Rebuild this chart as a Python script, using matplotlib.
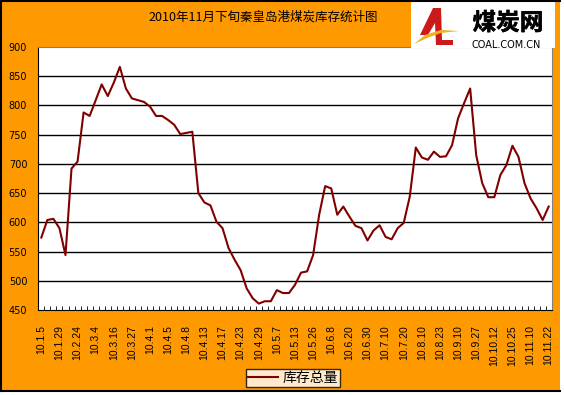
import numpy as np
import matplotlib.pyplot as plt
import matplotlib.patheffects as pe
from matplotlib.patches import Rectangle, Polygon
from matplotlib.lines import Line2D

plt.rcParams['font.family'] = ['Noto Sans CJK SC', 'DejaVu Sans']

title = "2010年11月下旬秦皇岛港煤炭库存统计图"
series_name = "库存总量"

# stock values (10k t), one per report date
stock = [574, 604, 606, 590, 544, 692, 704, 788, 782, 809,
         836, 816, 839, 866, 829, 812, 809, 806, 798, 782,
         782, 775, 767, 751, 753, 755, 650, 634, 629, 601,
         590, 556, 536, 518, 487, 470, 461, 465, 465, 484,
         479, 479, 493, 514, 516, 544, 613, 662, 658, 613,
         627, 610, 594, 590, 569, 586, 595, 575, 571, 590,
         599, 644, 728, 711, 707, 721, 712, 713, 732, 778,
         804, 829, 715, 667, 643, 643, 681, 698, 731, 712,
         667, 641, 624, 604, 627]

# labels shown on every third date
tick_labels = ["10.1.5", "10.1.29", "10.2.24", "10.3.4", "10.3.16", "10.3.27",
               "10.4.1", "10.4.5", "10.4.8", "10.4.13", "10.4.17", "10.4.23",
               "10.4.29", "10.5.7", "10.5.13", "10.5.26", "10.6.8", "10.6.20",
               "10.6.30", "10.7.10", "10.7.20", "10.8.10", "10.8.23", "10.9.10",
               "10.9.27", "10.10.12", "10.10.25", "10.11.10", "10.11.22"]
yticks = [450, 500, 550, 600, 650, 700, 750, 800, 850, 900]

W, H = 564, 395
fig = plt.figure(figsize=(W / 100, H / 100), dpi=100, facecolor="white")

# orange chart background, black border on top / left / bottom
fig.patches.append(Rectangle((0, 4 / H), 560 / W, 391 / H, transform=fig.transFigure,
                             facecolor="#FF9900", edgecolor="none", zorder=-10))
for xs, ys in [([0, 560], [394.5, 394.5]), ([0.8, 0.8], [4, 395]), ([0, 560], [4.5, 4.5])]:
    fig.add_artist(Line2D([v / W for v in xs], [v / H for v in ys], color="black", linewidth=1.5))

ax = fig.add_axes([38.3 / W, 1 - 310 / H, 513.4 / W, 263 / H])
ax.set_facecolor("white")

n = len(stock)
x = np.arange(n)
ax.plot(x, stock, color="#800000", linewidth=1.5, zorder=3)

ax.set_xlim(-0.5, n - 0.5)
ax.set_ylim(450, 900)
ax.set_yticks(yticks)
ax.set_yticklabels([str(v) for v in yticks], fontsize=7, family="DejaVu Sans")
ax.tick_params(axis="y", length=0, pad=8)
for v in yticks[1:-1]:
    ax.axhline(v, color="black", linewidth=1, zorder=1)

ax.set_xticks(x[::3])
ax.set_xticklabels(tick_labels, rotation=90, fontsize=7.5,
                   family=["Liberation Sans", "DejaVu Sans"], va="top", ha="center")
ax.set_xticks(np.arange(n + 1) - 0.5, minor=True)
ax.tick_params(axis="x", which="major", length=0, pad=11)
ax.tick_params(axis="x", which="minor", direction="in", length=3, width=0.6)

for side in ["top", "right"]:
    ax.spines[side].set_color("#808080")
ax.spines["left"].set_color("black")
ax.spines["bottom"].set_color("black")

fig.text(263 / W, 1 - 17 / H, title, fontsize=9, ha="center", va="center")

# legend
leg = fig.legend([ax.lines[0]], [series_name], loc="center", bbox_to_anchor=(293 / W, 1 - 378 / H),
                 frameon=True, fancybox=False, fontsize=10, handlelength=2.2, borderpad=0.15,
                 handletextpad=0.3, borderaxespad=0)
leg.get_frame().set_edgecolor("black")
leg.get_frame().set_linewidth(1)
leg.get_frame().set_facecolor("white")

# logo box
lax = fig.add_axes([411 / W, 1 - 48 / H, 144 / W, 47 / H])
lax.set_xlim(0, 144)
lax.set_ylim(47, 0)
lax.axis("off")
lax.add_patch(Rectangle((0, 0), 144, 47, facecolor="white", edgecolor="none"))
lax.add_patch(Polygon([[22, 7], [30, 7], [31, 39], [42, 39], [42, 44], [25, 44], [24, 22],
                       [17, 34], [9, 34]], closed=True, facecolor="#CC1A1A", edgecolor="none"))
lax.add_patch(Polygon([[3, 43], [14, 34], [30, 29], [48, 30], [30, 32], [16, 37]],
                      closed=True, facecolor="#F2B01E", edgecolor="none"))
lax.text(97, 22, "煤炭网", fontsize=17, fontweight="bold", ha="center", va="center", color="black",
         path_effects=[pe.withStroke(linewidth=0.4, foreground="black")])
lax.text(95, 44, "COAL.COM.CN", fontsize=7, ha="center", va="center", color="black",
         family="DejaVu Sans")

fig.savefig("out.png", dpi=100, facecolor=fig.get_facecolor())
